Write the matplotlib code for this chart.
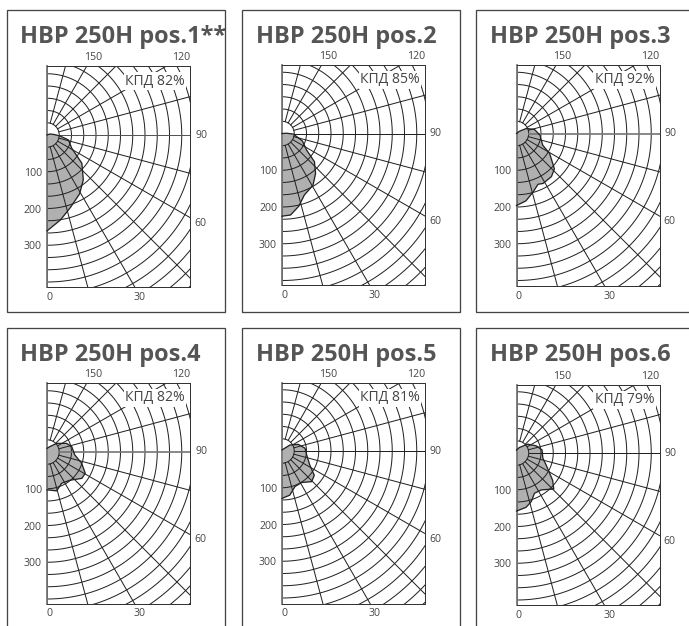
import numpy as np
import matplotlib
matplotlib.use("Agg")
import matplotlib.pyplot as plt
from matplotlib.patches import Rectangle

W, H = 689, 626
PX_PER_CD = 12.25 / 33.33
RING_STEP = 100 / 3

titles = ["HBP 250H pos.1**", "HBP 250H pos.2", "HBP 250H pos.3",
          "HBP 250H pos.4", "HBP 250H pos.5", "HBP 250H pos.6"]
kpd_labels = ["КПД 82%", "КПД 85%", "КПД 92%", "КПД 82%", "КПД 81%", "КПД 79%"]

# кривые силы света: угол (град) и значение (кд)
angles1 = [0, 9, 18, 29, 39, 51, 62, 77, 86, 96, 110, 180]
values1 = [261, 234, 207, 183, 157, 122, 76, 60, 35, 17, 8, 0]
angles2 = [0, 6, 13, 20, 31, 40, 49, 56, 70, 87, 93, 180]
values2 = [225, 223, 203, 178, 164, 142, 117, 81, 59, 31, 13, 0]
angles3 = [0, 8, 16, 23, 28, 39, 47, 59, 66, 86, 103, 117, 128, 180]
values3 = [196, 185, 165, 150, 154, 151, 141, 105, 78, 64, 50, 30, 10, 0]
angles4 = [0, 14, 25, 39, 53, 61, 72, 84, 102, 114, 132, 151, 180]
values4 = [103, 109, 94, 99, 119, 119, 99, 76, 69, 58, 35, 17, 10]
angles5 = [0, 10, 20, 32, 44, 53, 63, 81, 97, 112, 127, 180]
values5 = [129, 122, 103, 101, 116, 110, 85, 68, 63, 48, 27, 3]
angles6 = [0, 10, 17, 24, 34, 46, 53, 68, 79, 97, 110, 128, 152, 180]
values6 = [158, 150, 138, 120, 121, 141, 123, 87, 73, 70, 57, 39, 17, 8]

all_angles = [angles1, angles2, angles3, angles4, angles5, angles6]
all_values = [values1, values2, values3, values4, values5, values6]

ray_angles = np.arange(0, 181, 15)
ring_count = 17
cd_ticks = [100, 200, 300]
cd_labels = ["100", "200", "300"]

# левый край панели, верх панели, верх и низ оси, центр диаграммы (пиксели)
panel_left = [6.5, 241.5, 476, 6.5, 241.5, 476]
panel_top = [10, 10, 10, 328, 328, 328]
axis_top = [66, 65, 65, 383, 383, 385]
axis_bottom = [287, 285, 286, 604, 604, 605]
center_y = [135, 133.5, 133.5, 452, 451, 453]
line90_colors = ["#555555", "#222222", "#777777", "#777777", "#222222", "#222222"]

TEXT = "#444444"
LINE = "#222222"
FONT = ["Open Sans", "DejaVu Sans"]


def px(v):
    return v * 0.72


def polar_to_xy(angle, r):
    a = np.radians(angle)
    return np.array(r) * np.sin(a), -np.array(r) * np.cos(a)


def draw_panel(fig, i):
    left = panel_left[i]
    x0 = left + 40.5
    fig.add_artist(Rectangle((left / W, 1 - (panel_top[i] + 302) / H), 218.5 / W, 302 / H,
                             transform=fig.transFigure, fill=False, ec="#444444", lw=px(1.3)))
    fig.text((left + 14) / W, 1 - (panel_top[i] + 33) / H, titles[i], family=FONT,
             fontweight="bold", fontsize=px(23.5), color="#555555", ha="left", va="baseline")

    ax = fig.add_axes([x0 / W, 1 - axis_bottom[i] / H, 143 / W, (axis_bottom[i] - axis_top[i]) / H])
    ax.set_xlim(0, 143 / PX_PER_CD)
    ax.set_ylim(-(axis_bottom[i] - center_y[i]) / PX_PER_CD, (center_y[i] - axis_top[i]) / PX_PER_CD)

    xs, ys = polar_to_xy(np.array(all_angles[i]), all_values[i])
    ax.fill(xs, ys, color="#b0b0b0", lw=0, zorder=1)

    t = np.radians(np.linspace(0, 180, 181))
    for k in range(1, ring_count + 1):
        r = k * RING_STEP
        ax.plot(r * np.sin(t), -r * np.cos(t), color=LINE, lw=px(1.0), zorder=2)
    for a in ray_angles:
        c = line90_colors[i] if a == 90 else LINE
        w = px(1.7) if c == "#777777" else px(1.0)
        rx, ry = polar_to_xy(a, [RING_STEP, 700])
        ax.plot(rx, ry, color=c, lw=w, zorder=2)

    ax.plot(xs, ys, color="#222222", lw=px(1.3), zorder=3, solid_joinstyle="round", clip_on=False)

    for side in ["top", "right", "bottom"]:
        ax.spines[side].set_color("#333333")
        ax.spines[side].set_linewidth(px(1.0))
    ax.spines["left"].set_color("#777777")
    ax.spines["left"].set_linewidth(px(1.8))

    ax.set_xticks([])
    ax.set_yticks([-v for v in cd_ticks])
    ax.set_yticklabels(cd_labels, family=FONT, fontsize=px(10.5), color=TEXT)
    ax.tick_params(axis="y", length=0, pad=px(5))

    ax.annotate(kpd_labels[i], xy=(1, 1), xycoords="axes fraction", xytext=(-5, -15),
                textcoords="offset pixels", ha="right", va="center", family=FONT,
                fontsize=px(14), color=TEXT, zorder=5,
                bbox=dict(fc="white", ec="none", pad=1))

    # подписи углов вокруг оси
    for text, off_x, off_y, anchor in [("150", 46, 8.5, 1), ("120", 134, 8.5, 1),
                                       ("0", 2.5, -10, 0), ("30", 93, -10, 0)]:
        ax.annotate(text, xy=(0, anchor), xycoords="axes fraction", xytext=(off_x, off_y),
                    textcoords="offset pixels", ha="center", va="center", family=FONT,
                    fontsize=px(10.5), color=TEXT)
    ax.annotate("90", xy=(1, 0), xycoords="axes fraction",
                xytext=(11, axis_bottom[i] - center_y[i]), textcoords="offset pixels",
                ha="center", va="center", family=FONT, fontsize=px(10.5), color=TEXT)
    ax.annotate("60", xy=(1, 0), xycoords="axes fraction",
                xytext=(10, axis_bottom[i] - center_y[i] - 88), textcoords="offset pixels",
                ha="center", va="center", family=FONT, fontsize=px(10.5), color=TEXT)


def main():
    fig = plt.figure(figsize=(W / 100, H / 100), dpi=100, facecolor="white")
    for i in range(6):
        draw_panel(fig, i)
    fig.savefig("out.png", dpi=100)


if __name__ == "__main__":
    main()
